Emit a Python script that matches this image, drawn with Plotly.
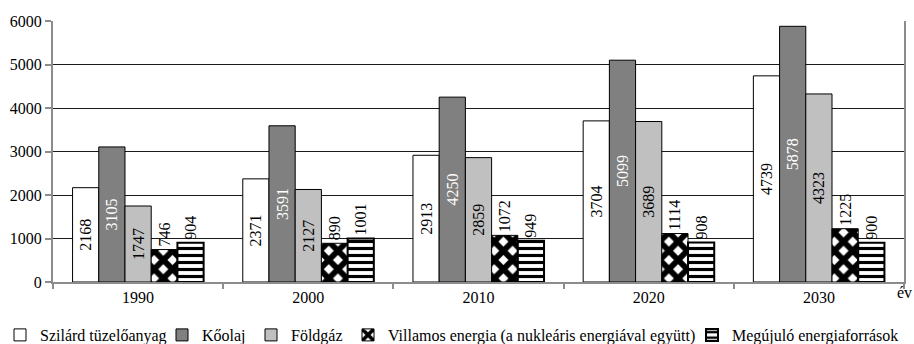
import plotly.graph_objects as go

# Energy demand by source (values per year)
years = ["1990", "2000", "2010", "2020", "2030"]
szilard = [2168, 2371, 2913, 3704, 4739]
koolaj = [3105, 3591, 4250, 5099, 5878]
foldgaz = [1747, 2127, 2859, 3689, 4323]
villamos = [746, 890, 1072, 1114, 1225]
megujulo = [904, 1001, 949, 908, 900]

names = [
    "Szilárd tüzelőanyag",
    "Kőolaj",
    "Földgáz",
    "Villamos energia (a nukleáris energiával együtt)",
    "Megújuló energiaforrások",
]
y_ticks = [0, 1000, 2000, 3000, 4000, 5000, 6000]

FONT = "Liberation Serif"
W, H = 914, 344

# left edge (px) of each legend entry along the bottom row
legend_left_px = [0, 162, 251, 348, 692]

fig = go.Figure()

def add_bar(idx, values, fill, text_color, position, pattern=None, line_w=1.0):
    marker = dict(color=fill, line=dict(color="black", width=line_w))
    if pattern is not None:
        marker["pattern"] = pattern
    fig.add_trace(go.Bar(
        name=names[idx],
        legend="legend" if idx == 0 else f"legend{idx + 1}",
        x=years,
        y=values,
        text=[str(v) for v in values],
        textposition=position,
        insidetextanchor="middle",
        textangle=-90,
        textfont=dict(family=FONT, size=16, color=text_color),
        constraintext="none",
        cliponaxis=False,
        marker=marker,
    ))

add_bar(0, szilard, "white", "black", "inside")
add_bar(1, koolaj, "#808080", "white", "inside")
add_bar(2, foldgaz, "#c0c0c0", "black", "inside")
add_bar(3, villamos, "white", "black", "outside",
        pattern=dict(shape="x", fgcolor="black", bgcolor="white",
                     size=13, solidity=0.7, fillmode="replace"))
add_bar(4, megujulo, "white", "black", "outside",
        pattern=dict(shape="-", fgcolor="black", bgcolor="white",
                     size=7, solidity=0.45, fillmode="replace"),
        line_w=2)

legends = {}
for i, left in enumerate(legend_left_px):
    key = "legend" if i == 0 else f"legend{i + 1}"
    legends[key] = dict(
        orientation="h",
        xref="container",
        yref="container",
        x=left / W,
        xanchor="left",
        y=(H - 335) / H,
        yanchor="middle",
        font=dict(family=FONT, size=16, color="black"),
        itemwidth=30,
        bgcolor="rgba(0,0,0,0)",
    )

fig.update_layout(
    width=W,
    height=H,
    margin=dict(l=53, r=10, t=21, b=62, autoexpand=False),
    paper_bgcolor="white",
    plot_bgcolor="white",
    barmode="group",
    bargap=0.23,
    bargroupgap=0,
    font=dict(family=FONT, size=16, color="black"),
    showlegend=True,
    xaxis=dict(
        type="category",
        showgrid=False,
        showline=True,
        linecolor="#8c8c8c",
        linewidth=2,
        ticks="outside",
        tickson="boundaries",
        ticklen=5,
        tickcolor="#8c8c8c",
        tickwidth=2,
        tickfont=dict(family=FONT, size=16),
    ),
    yaxis=dict(
        range=[0, 6000],
        tickvals=y_ticks,
        showgrid=True,
        gridcolor="#1a1a1a",
        gridwidth=1,
        zeroline=False,
        showline=True,
        linecolor="#8c8c8c",
        linewidth=2,
        mirror=True,
        ticks="outside",
        ticklen=6,
        tickcolor="#8c8c8c",
        tickwidth=2,
        tickfont=dict(family=FONT, size=16),
    ),
    annotations=[
        dict(text="év", xref="paper", yref="paper", x=1.001, y=-0.042,
             xanchor="center", yanchor="middle", showarrow=False,
             font=dict(family=FONT, size=16)),
    ],
    **legends,
)

fig.write_html("out.html")
